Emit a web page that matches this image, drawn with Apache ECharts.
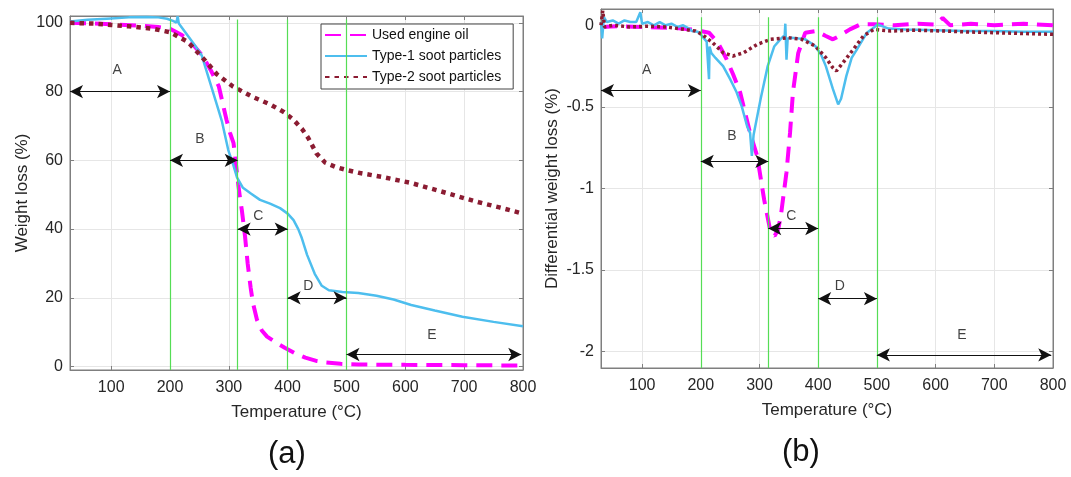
<!DOCTYPE html>
<html><head><meta charset="utf-8">
<script src="https://cdn.jsdelivr.net/npm/echarts@6/dist/echarts.min.js"></script>
<style>html,body{margin:0;padding:0;background:#fff}#c{width:1071px;height:477px}</style>
</head><body><div id="c"></div>
<script>
const seriesNames = ['Used engine oil', 'Type-1 soot particles', 'Type-2 soot particles'];

// (a) Weight loss (%) vs temperature
const tgaOilT = [30, 60, 100, 150, 180, 200, 220, 240, 255, 270, 283, 296, 302, 308, 312, 316, 319, 322, 327.5, 332, 337, 341, 348, 356, 365, 380, 395, 411, 430, 450, 465, 490, 520, 600, 700, 800];
const tgaOilW = [100, 99.9, 99.6, 99.2, 98.8, 98.3, 96.5, 93.5, 90.5, 86, 81.5, 71.8, 68, 65, 59, 53, 49, 45.6, 37.9, 30, 23, 18.5, 13.5, 10.5, 8.7, 7, 5.5, 4, 2.6, 1.6, 1.2, 0.8, 0.6, 0.5, 0.4, 0.3];
const tgaT1T = [30, 60, 100, 130, 160, 180, 195, 205, 211, 213, 215, 218, 225, 240, 254, 262, 271, 280, 288, 299, 307, 314, 324, 338, 353, 370, 387, 400, 410, 418, 424, 433, 446, 458, 470, 493, 520, 551, 580, 610, 650, 697, 750, 800];
const tgaT1W = [100.4, 100.9, 101.3, 101.6, 101.7, 101.6, 101.2, 100.6, 100.1, 101.9, 99.8, 99.3, 97.5, 94, 90.5, 86, 81, 76, 71.5, 63, 59, 55, 52, 50.3, 48.5, 47.4, 46.1, 44.5, 42.6, 40, 37.4, 32.5, 27, 23.5, 22.2, 21.7, 21.4, 20.6, 19.5, 17.9, 16.3, 14.5, 13, 11.7];
const tgaT2T = [30, 70, 100, 130, 170, 200, 230, 260, 280, 307, 340, 370, 394, 410, 425, 435, 449, 464, 483, 500, 523, 560, 610, 660, 700, 725, 760, 800];
const tgaT2W = [100, 99.8, 99.4, 99, 98.3, 97.3, 94.5, 89, 85, 81.5, 78.5, 76.3, 74, 71.8, 69, 66.5, 62, 59.3, 58, 57.2, 56.3, 55.2, 53.4, 51, 49, 47.8, 46.3, 44.5];

// (b) Differential weight loss (%) vs temperature
const dtgOilT = [30, 60, 100, 150, 185, 214, 229, 243, 255, 267, 284, 296, 308, 319, 326, 332, 337, 346, 352, 357, 366, 378, 396, 413, 425, 436, 454, 472, 495, 530, 570, 600, 612, 625, 660, 700, 750, 800];
const dtgOilD = [-0.01, -0.005, -0.01, -0.015, -0.025, -0.045, -0.106, -0.2, -0.3, -0.41, -0.66, -0.8, -1.07, -1.27, -1.29, -1.25, -1.15, -0.9, -0.66, -0.41, -0.17, -0.045, -0.035, -0.065, -0.086, -0.065, -0.025, 0.006, 0.006, 0.0, 0.01, 0.005, 0.045, 0.0, 0.01, 0.0, 0.01, 0.0];
const dtgT1T = [30, 32, 35, 40, 50, 60, 70, 80, 90, 97, 100, 110, 120, 130, 140, 150, 160, 170, 180, 185, 195, 202, 210, 214, 215, 218, 225, 238, 250, 261, 270, 279, 284, 287, 290, 293, 302, 314, 325, 337, 343, 344, 346, 348, 355, 365, 378, 395, 405, 413, 425, 434, 439, 448, 457, 466, 483, 495, 501, 520, 550, 600, 650, 700, 750, 800];
const dtgT1D = [0.02, -0.08, 0.05, 0.02, 0.03, 0.01, 0.03, 0.02, 0.02, 0.08, 0.01, 0.02, 0.0, 0.02, 0.0, 0.01, -0.01, 0.0, -0.02, -0.035, -0.04, -0.065, -0.1, -0.33, -0.13, -0.17, -0.2, -0.25, -0.33, -0.41, -0.5, -0.62, -0.66, -0.8, -0.67, -0.66, -0.45, -0.25, -0.13, -0.08, -0.06, 0.01, -0.21, -0.08, -0.076, -0.08, -0.086, -0.127, -0.18, -0.25, -0.39, -0.485, -0.45, -0.31, -0.2, -0.147, -0.045, -0.014, 0.006, -0.02, -0.025, -0.03, -0.035, -0.035, -0.04, -0.04];
const dtgT2T = [30, 33, 36, 50, 80, 110, 140, 173, 191, 202, 220, 238, 255, 273, 296, 319, 349, 372, 395, 413, 425, 431, 442, 460, 477, 495, 524, 560, 612, 650, 700, 750, 800];
const dtgT2D = [0.0, 0.09, -0.01, 0.0, -0.01, -0.005, -0.01, -0.025, -0.035, -0.055, -0.106, -0.168, -0.188, -0.168, -0.117, -0.086, -0.076, -0.086, -0.127, -0.198, -0.26, -0.28, -0.23, -0.147, -0.065, -0.025, -0.035, -0.03, -0.035, -0.04, -0.045, -0.05, -0.055];

// Stage boundaries and stage labels
const stageBounds = [200, 315, 400, 500];
const stageNames = ['A', 'B', 'C', 'D', 'E'];
const stageFromT = [30, 200, 315, 400, 500];
const stageToT = [200, 315, 400, 500, 797];
const stageArrowW = [80, 60, 40, 20, 3.5];
const stageLabelT = [110, 251, 350, 435, 645];
const stageLabelW = [86.3, 66.3, 43.9, 23.3, 9];
const stageArrowD = [-0.4, -0.834, -1.245, -1.675, -2.02];
const stageLabelTb = [108, 253, 354, 437, 645];
const stageLabelD = [-0.276, -0.68, -1.17, -1.6, -1.9];

const zip = (a, b) => a.map((v, i) => [v, b[i]]);
const FONT = 'Liberation Sans, Arial, sans-serif';
const COL = { oil: '#ff00ff', t1: '#4dbeee', t2: '#8b1c32', green: '#55dd55', axis: '#7f7f7f', text: '#262626' };

function xAx(gi) {
  return {
    gridIndex: gi, type: 'value', min: 30, max: 800, splitNumber: 8,
    name: 'Temperature (°C)', nameLocation: 'middle', nameGap: 34,
    nameTextStyle: { fontSize: 17, color: COL.text, fontFamily: FONT },
    axisLine: { show: true, onZero: false, lineStyle: { color: COL.axis, width: 1 } },
    axisTick: { show: true, inside: true, length: 4, lineStyle: { color: COL.axis } },
    axisLabel: { showMinLabel: false, color: COL.text, fontSize: 16, margin: 10, fontFamily: FONT },
    splitLine: { show: true, lineStyle: { color: '#e6e6e6', width: 1 } }
  };
}
function xTop(gi) {
  return {
    gridIndex: gi, type: 'value', min: 30, max: 800, splitNumber: 8, position: 'top',
    axisLine: { show: true, onZero: false, lineStyle: { color: COL.axis, width: 1 } },
    axisTick: { show: true, inside: true, length: 4, lineStyle: { color: COL.axis } },
    axisLabel: { show: false }, splitLine: { show: false }
  };
}
function yAx(gi, min, max, name, gap) {
  return {
    gridIndex: gi, type: 'value', min: min, max: max,
    name: name, nameLocation: 'middle', nameGap: gap,
    nameTextStyle: { fontSize: 17, color: COL.text, fontFamily: FONT },
    axisLine: { show: true, onZero: false, lineStyle: { color: COL.axis, width: 1 } },
    axisTick: { show: true, inside: true, length: 4, lineStyle: { color: COL.axis } },
    axisLabel: { showMinLabel: false, showMaxLabel: false, color: COL.text, fontSize: 16, margin: 7, fontFamily: FONT },
    splitLine: { show: true, lineStyle: { color: '#e6e6e6', width: 1 } }
  };
}
function yRight(gi, min, max) {
  return {
    gridIndex: gi, type: 'value', min: min, max: max, position: 'right',
    axisLine: { show: true, onZero: false, lineStyle: { color: COL.axis, width: 1 } },
    axisTick: { show: true, inside: true, length: 4, lineStyle: { color: COL.axis } },
    axisLabel: { show: false }, splitLine: { show: false }
  };
}
function curve(name, gi, data, color, width, type) {
  return {
    name: name, type: 'line', xAxisIndex: gi, yAxisIndex: gi, data: data,
    symbol: 'none', smooth: false, silent: true,
    lineStyle: { color: color, width: width, type: type, cap: 'butt' },
    itemStyle: { color: color }
  };
}
function guides(gi, yLo, yHi, arrowY) {
  return [
    {
      type: 'line', xAxisIndex: gi, yAxisIndex: gi, data: [], silent: true,
      markLine: {
        silent: true, symbol: ['none', 'none'], label: { show: false },
        lineStyle: { color: COL.green, width: 1.2, type: 'solid' },
        data: stageBounds.map(t => [{ coord: [t, yLo] }, { coord: [t, yHi] }])
      }
    },
    {
      type: 'line', xAxisIndex: gi, yAxisIndex: gi, data: [], silent: true,
      markLine: {
        silent: true, symbol: ['arrow', 'arrow'], symbolSize: [10, 13], label: { show: false },
        lineStyle: { color: '#111', width: 1, type: 'solid' },
        itemStyle: { color: '#111' },
        data: stageFromT.map((t, i) => [{ coord: [t, arrowY[i]] }, { coord: [stageToT[i], arrowY[i]] }])
      }
    }
  ];
}
function letters(gi, tx, ty) {
  return {
    type: 'scatter', xAxisIndex: gi, yAxisIndex: gi, silent: true,
    data: stageNames.map((s, i) => [tx[i], ty[i], s]),
    symbolSize: 1, itemStyle: { color: 'rgba(0,0,0,0)' },
    label: { show: true, position: 'inside', formatter: p => p.data[2], fontSize: 14, color: '#111', fontFamily: FONT }
  };
}

const chart = echarts.init(document.getElementById('c'), null, { renderer: 'canvas' });
chart.setOption({
  animation: false,
  backgroundColor: '#fff',
  textStyle: { fontFamily: FONT },
  grid: [
    { left: 70, top: 16, width: 453, height: 354, show: true, borderColor: COL.axis, borderWidth: 1, backgroundColor: '#fff' },
    { left: 601, top: 9, width: 452, height: 359, show: true, borderColor: COL.axis, borderWidth: 1, backgroundColor: '#fff' }
  ],
  xAxis: [xAx(0), xAx(1), xTop(0), xTop(1)],
  yAxis: [yAx(0, -1, 102, 'Weight loss (%)', 39), yAx(1, -2.1, 0.1, 'Differential weight loss (%)', 40), yRight(0, -1, 102), yRight(1, -2.1, 0.1)],
  legend: {
    data: seriesNames, orient: 'vertical', left: 321, top: 24,
    backgroundColor: '#fff', borderColor: '#444', borderWidth: 1,
    padding: [4, 12, 5, 3], itemWidth: 42, itemHeight: 14, itemGap: 7,
    itemStyle: { color: 'rgba(0,0,0,0)', borderWidth: 0, opacity: 0 },
    textStyle: { fontSize: 14, color: '#111', fontFamily: FONT },
    selectedMode: false
  },
  graphic: [
    { type: 'text', left: 268, top: 439, style: { text: '(a)', fontSize: 31, fill: '#111', font: '31px ' + FONT } },
    { type: 'text', left: 782, top: 437, style: { text: '(b)', fontSize: 31, fill: '#111', font: '31px ' + FONT } }
  ],
  series: [
    ...guides(0, -1, 101, stageArrowW),
    ...guides(1, -2.1, 0.05, stageArrowD),
    curve(seriesNames[0], 0, zip(tgaOilT, tgaOilW), COL.oil, 4, [16, 9]),
    curve(seriesNames[1], 0, zip(tgaT1T, tgaT1W), COL.t1, 2.5, 'solid'),
    curve(seriesNames[2], 0, zip(tgaT2T, tgaT2W), COL.t2, 4.5, [4.5, 5]),
    curve(seriesNames[0], 1, zip(dtgOilT, dtgOilD), COL.oil, 4, [16, 9]),
    curve(seriesNames[1], 1, zip(dtgT1T, dtgT1D), COL.t1, 2.5, 'solid'),
    curve(seriesNames[2], 1, zip(dtgT2T, dtgT2D), COL.t2, 3.5, [3, 3]),
    letters(0, stageLabelT, stageLabelW),
    letters(1, stageLabelTb, stageLabelD)
  ]
});
</script>
</body></html>
